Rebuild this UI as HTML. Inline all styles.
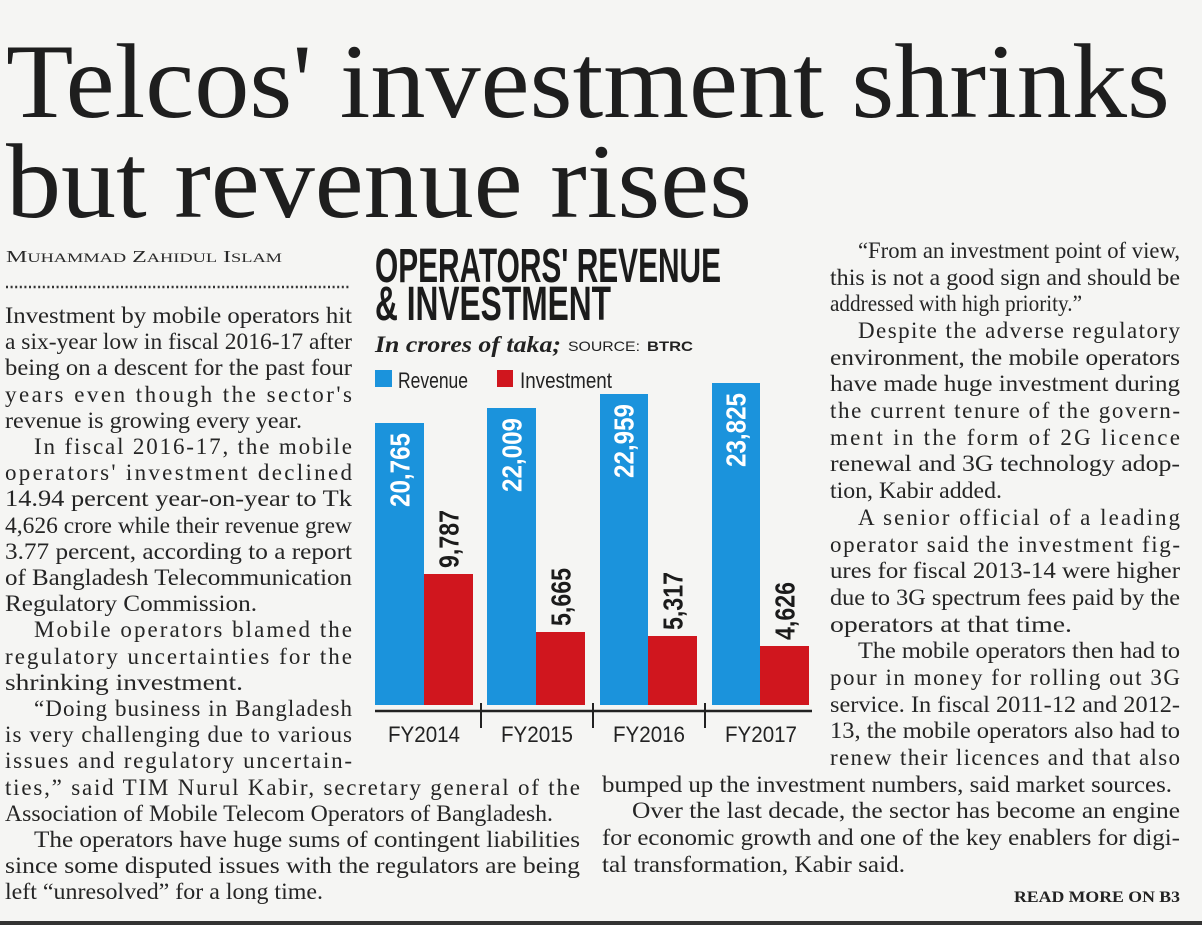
<!DOCTYPE html>
<html><head><meta charset="utf-8"><style>
html,body{margin:0;padding:0;background:#f5f5f3;}
svg{display:block}
.b{font-family:"Liberation Serif",serif;font-size:23px;fill:#252525}
.n{font-family:"Liberation Sans Narrow","Liberation Sans",sans-serif;font-weight:bold}
</style></head><body>
<svg width="1202" height="925" viewBox="0 0 1202 925" xmlns="http://www.w3.org/2000/svg">
<rect width="1202" height="925" fill="#f5f5f3"/>
<g font-family="Liberation Serif,serif" fill="#1e1e1e" font-size="106">
<text x="6" y="117" textLength="1164" lengthAdjust="spacingAndGlyphs">Telcos' investment shrinks</text>
<text x="6" y="217" textLength="746" lengthAdjust="spacingAndGlyphs">but revenue rises</text>
</g>
<text x="6" y="262" font-family="Liberation Serif,serif" font-size="17" fill="#2a2a2a" textLength="276" lengthAdjust="spacingAndGlyphs">M<tspan font-size="13">UHAMMAD</tspan> Z<tspan font-size="13">AHIDUL</tspan> I<tspan font-size="13">SLAM</tspan></text>
<line x1="6" y1="287" x2="350" y2="287" stroke="#333" stroke-width="2.5" stroke-dasharray="2,2.6"/>
<g class="b">
<text x="5" y="323" textLength="347" lengthAdjust="spacingAndGlyphs">Investment by mobile operators hit</text>
<text x="5" y="349" textLength="347" lengthAdjust="spacingAndGlyphs">a six-year low in fiscal 2016-17 after</text>
<text x="5" y="375" textLength="347" lengthAdjust="spacingAndGlyphs">being on a descent for the past four</text>
<text x="5" y="402" textLength="347" lengthAdjust="spacing">years even though the sector's</text>
<text x="5" y="428" textLength="297" lengthAdjust="spacingAndGlyphs">revenue is growing every year.</text>
<text x="34" y="454" textLength="318" lengthAdjust="spacing">In fiscal 2016-17, the mobile</text>
<text x="5" y="480" textLength="347" lengthAdjust="spacing">operators' investment declined</text>
<text x="5" y="506" textLength="347" lengthAdjust="spacingAndGlyphs">14.94 percent year-on-year to Tk</text>
<text x="5" y="533" textLength="347" lengthAdjust="spacingAndGlyphs">4,626 crore while their revenue grew</text>
<text x="5" y="559" textLength="347" lengthAdjust="spacingAndGlyphs">3.77 percent, according to a report</text>
<text x="5" y="585" textLength="347" lengthAdjust="spacingAndGlyphs">of Bangladesh Telecommunication</text>
<text x="5" y="611" textLength="252" lengthAdjust="spacingAndGlyphs">Regulatory Commission.</text>
<text x="34" y="637" textLength="318" lengthAdjust="spacing">Mobile operators blamed the</text>
<text x="5" y="664" textLength="347" lengthAdjust="spacing">regulatory uncertainties for the</text>
<text x="5" y="690" textLength="238" lengthAdjust="spacingAndGlyphs">shrinking investment.</text>
<text x="34" y="716" textLength="318" lengthAdjust="spacing">“Doing business in Bangladesh</text>
<text x="5" y="742" textLength="347" lengthAdjust="spacing">is very challenging due to various</text>
<text x="5" y="768" textLength="347" lengthAdjust="spacing">issues and regulatory uncertain-</text>
<text x="5" y="795" textLength="575" lengthAdjust="spacing">ties,” said TIM Nurul Kabir, secretary general of the</text>
<text x="5" y="821" textLength="548" lengthAdjust="spacingAndGlyphs">Association of Mobile Telecom Operators of Bangladesh.</text>
<text x="34" y="847" textLength="546" lengthAdjust="spacingAndGlyphs">The operators have huge sums of contingent liabilities</text>
<text x="5" y="873" textLength="575" lengthAdjust="spacingAndGlyphs">since some disputed issues with the regulators are being</text>
<text x="5" y="899" textLength="318" lengthAdjust="spacingAndGlyphs">left “unresolved” for a long time.</text>
</g>
<g class="b">
<text x="858" y="258" textLength="322" lengthAdjust="spacingAndGlyphs">“From an investment point of view,</text>
<text x="830" y="285" textLength="350" lengthAdjust="spacingAndGlyphs">this is not a good sign and should be</text>
<text x="830" y="311" textLength="252" lengthAdjust="spacingAndGlyphs">addressed with high priority.”</text>
<text x="858" y="338" textLength="322" lengthAdjust="spacing">Despite the adverse regulatory</text>
<text x="830" y="365" textLength="350" lengthAdjust="spacingAndGlyphs">environment, the mobile operators</text>
<text x="830" y="391" textLength="350" lengthAdjust="spacingAndGlyphs">have made huge investment during</text>
<text x="830" y="418" textLength="350" lengthAdjust="spacing">the current tenure of the govern-</text>
<text x="830" y="445" textLength="350" lengthAdjust="spacing">ment in the form of 2G licence</text>
<text x="830" y="471" textLength="350" lengthAdjust="spacingAndGlyphs">renewal and 3G technology adop-</text>
<text x="830" y="498" textLength="172" lengthAdjust="spacingAndGlyphs">tion, Kabir added.</text>
<text x="858" y="525" textLength="322" lengthAdjust="spacing">A senior official of a leading</text>
<text x="830" y="552" textLength="350" lengthAdjust="spacing">operator said the investment fig-</text>
<text x="830" y="578" textLength="350" lengthAdjust="spacingAndGlyphs">ures for fiscal 2013-14 were higher</text>
<text x="830" y="605" textLength="350" lengthAdjust="spacingAndGlyphs">due to 3G spectrum fees paid by the</text>
<text x="830" y="632" textLength="242" lengthAdjust="spacingAndGlyphs">operators at that time.</text>
<text x="858" y="658" textLength="322" lengthAdjust="spacingAndGlyphs">The mobile operators then had to</text>
<text x="830" y="685" textLength="350" lengthAdjust="spacing">pour in money for rolling out 3G</text>
<text x="830" y="712" textLength="350" lengthAdjust="spacingAndGlyphs">service. In fiscal 2011-12 and 2012-</text>
<text x="830" y="738" textLength="350" lengthAdjust="spacingAndGlyphs">13, the mobile operators also had to</text>
<text x="830" y="765" textLength="350" lengthAdjust="spacing">renew their licences and that also</text>
<text x="602" y="792" textLength="570" lengthAdjust="spacingAndGlyphs">bumped up the investment numbers, said market sources.</text>
<text x="632" y="818" textLength="548" lengthAdjust="spacingAndGlyphs">Over the last decade, the sector has become an engine</text>
<text x="602" y="845" textLength="578" lengthAdjust="spacingAndGlyphs">for economic growth and one of the key enablers for digi-</text>
<text x="602" y="872" textLength="303" lengthAdjust="spacingAndGlyphs">tal transformation, Kabir said.</text>
</g>
<text x="1180" y="902" text-anchor="end" font-family="Liberation Serif,serif" font-weight="bold" font-size="16" fill="#222" textLength="166" lengthAdjust="spacingAndGlyphs">READ MORE ON B3</text>
<rect x="0" y="921" width="1202" height="4" fill="#333"/>

<g class="n" fill="#1b1b1b" font-size="48">
<text x="375" y="282" textLength="346" lengthAdjust="spacingAndGlyphs">OPERATORS' REVENUE</text>
<text x="375" y="320" textLength="236" lengthAdjust="spacingAndGlyphs">&amp; INVESTMENT</text>
</g>
<text x="375" y="352" font-family="Liberation Serif,serif" font-style="italic" font-weight="bold" font-size="23" fill="#222" textLength="186" lengthAdjust="spacingAndGlyphs">In crores of taka;</text>
<text x="568" y="351" font-family="Liberation Sans,sans-serif" font-size="14" fill="#222" textLength="72" lengthAdjust="spacingAndGlyphs">SOURCE:</text>
<text x="647" y="351" font-family="Liberation Sans,sans-serif" font-weight="bold" font-size="14" fill="#222" textLength="46" lengthAdjust="spacingAndGlyphs">BTRC</text>
<rect x="375" y="370" width="17" height="17" fill="#1b93dc"/>
<text x="398" y="388" font-family="Liberation Sans Narrow,Liberation Sans,sans-serif" font-size="22" fill="#222" textLength="70" lengthAdjust="spacingAndGlyphs">Revenue</text>
<rect x="497" y="370" width="16" height="17" fill="#d0161e"/>
<text x="520" y="388" font-family="Liberation Sans Narrow,Liberation Sans,sans-serif" font-size="22" fill="#222" textLength="92" lengthAdjust="spacingAndGlyphs">Investment</text>

<g fill="#1b93dc">
<rect x="375" y="423" width="49" height="282"/>
<rect x="487" y="408" width="49" height="297"/>
<rect x="600" y="394" width="48" height="311"/>
<rect x="712" y="383" width="48" height="322"/>
</g>
<g fill="#d0161e">
<rect x="424" y="574" width="49" height="131"/>
<rect x="536" y="632" width="49" height="73"/>
<rect x="648" y="636" width="49" height="69"/>
<rect x="760" y="646" width="49" height="59"/>
</g>
<g class="n" font-size="28" dominant-baseline="central">
<text fill="#fff" text-anchor="end" textLength="74" lengthAdjust="spacingAndGlyphs" transform="translate(400,433) rotate(-90)">20,765</text>
<text fill="#fff" text-anchor="end" textLength="74" lengthAdjust="spacingAndGlyphs" transform="translate(512,418) rotate(-90)">22,009</text>
<text fill="#fff" text-anchor="end" textLength="74" lengthAdjust="spacingAndGlyphs" transform="translate(624,404) rotate(-90)">22,959</text>
<text fill="#fff" text-anchor="end" textLength="74" lengthAdjust="spacingAndGlyphs" transform="translate(736,393) rotate(-90)">23,825</text>
<text fill="#1b1b1b" text-anchor="start" textLength="58" lengthAdjust="spacingAndGlyphs" transform="translate(449,568) rotate(-90)">9,787</text>
<text fill="#1b1b1b" text-anchor="start" textLength="58" lengthAdjust="spacingAndGlyphs" transform="translate(561,626) rotate(-90)">5,665</text>
<text fill="#1b1b1b" text-anchor="start" textLength="58" lengthAdjust="spacingAndGlyphs" transform="translate(673,630) rotate(-90)">5,317</text>
<text fill="#1b1b1b" text-anchor="start" textLength="58" lengthAdjust="spacingAndGlyphs" transform="translate(785,640) rotate(-90)">4,626</text>
</g>
<line x1="375" y1="711" x2="812" y2="711" stroke="#222" stroke-width="2.5"/>
<g stroke="#222" stroke-width="2">
<line x1="481" y1="703" x2="481" y2="728"/>
<line x1="593" y1="703" x2="593" y2="728"/>
<line x1="705" y1="703" x2="705" y2="728"/>
</g>
<g font-family="Liberation Sans Narrow,Liberation Sans,sans-serif" font-size="22" fill="#222" text-anchor="middle">
<text x="424" y="742" textLength="72" lengthAdjust="spacingAndGlyphs">FY2014</text>
<text x="537" y="742" textLength="72" lengthAdjust="spacingAndGlyphs">FY2015</text>
<text x="649" y="742" textLength="72" lengthAdjust="spacingAndGlyphs">FY2016</text>
<text x="761" y="742" textLength="72" lengthAdjust="spacingAndGlyphs">FY2017</text>
</g>
</svg>
</body></html>
